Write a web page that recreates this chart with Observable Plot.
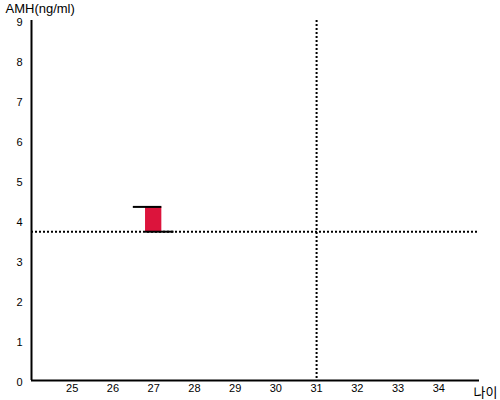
<!DOCTYPE html>
<html>
<head>
<meta charset="utf-8">
<script src="https://cdn.jsdelivr.net/npm/d3@7"></script>
<script src="https://cdn.jsdelivr.net/npm/@observablehq/plot@0.6"></script>
<style>
  html, body { margin: 0; padding: 0; background: #fff; }
  #chart { width: 500px; height: 400px; }
</style>
</head>
<body>
<div id="chart"></div>
<script>
// Data
const xTicks = [25, 26, 27, 28, 29, 30, 31, 32, 33, 34];
const yTicks = [0, 1, 2, 3, 4, 5, 6, 7, 8, 9];
const barX1 = [26.8];
const barX2 = [27.2];
const barLow = [3.72];
const barHigh = [4.34];
const topLineX1 = [26.5];
const topLineX2 = [27.2];
const bottomLineX1 = [26.8];
const bottomLineX2 = [27.5];
const refAge = [31];
const refAMH = [3.72];
const xLabel = "나이";
const yLabel = "AMH(ng/ml)";

const bars = barX1.map((d, i) => ({x1: d, x2: barX2[i], y1: barLow[i], y2: barHigh[i]}));
const topLines = topLineX1.map((d, i) => ({x1: d, x2: topLineX2[i], y: barHigh[i]}));
const bottomLines = bottomLineX1.map((d, i) => ({x1: d, x2: bottomLineX2[i], y: barLow[i]}));

const chart = Plot.plot({
  width: 500,
  height: 400,
  marginLeft: 31,
  marginRight: 21,
  marginTop: 20,
  marginBottom: 20,
  style: {fontFamily: "Liberation Sans, Arial, sans-serif", fontSize: "11px", color: "#000", background: "#fff"},
  x: {domain: [24, 35], label: null},
  y: {domain: [0, 9], label: null},
  marks: [
    Plot.axisX({ticks: xTicks, tickSize: 0, tickPadding: 4, tickFormat: d => String(d), label: null, fontSize: 11}),
    Plot.axisY({ticks: yTicks, tickSize: 0, tickPadding: 9, tickFormat: d => String(d), label: null, fontSize: 11, dy: 2}),
    Plot.ruleY(refAMH, {stroke: "#000", strokeWidth: 2, strokeDasharray: "2,2"}),
    Plot.ruleX(refAge, {stroke: "#000", strokeWidth: 2, strokeDasharray: "2,2"}),
    Plot.rect(bars, {x1: "x1", x2: "x2", y1: "y1", y2: "y2", fill: "#dc143c"}),
    Plot.ruleY(topLines, {x1: "x1", x2: "x2", y: "y", stroke: "#000", strokeWidth: 2}),
    Plot.ruleY(bottomLines, {x1: "x1", x2: "x2", y: "y", stroke: "#000", strokeWidth: 2}),
    Plot.ruleX([24], {stroke: "#000", strokeWidth: 2}),
    Plot.ruleY([0], {stroke: "#000", strokeWidth: 2}),
    Plot.text([yLabel], {frameAnchor: "top-left", dx: -26, dy: -17, textAnchor: "start", fontSize: 13, fill: "#000"}),
    Plot.text([xLabel], {frameAnchor: "bottom-right", dx: 18, dy: 16, textAnchor: "end", fontSize: 13, fill: "#000", fontFamily: "Noto Sans CJK KR"})
  ]
});
document.getElementById("chart").appendChild(chart);
</script>
</body>
</html>
